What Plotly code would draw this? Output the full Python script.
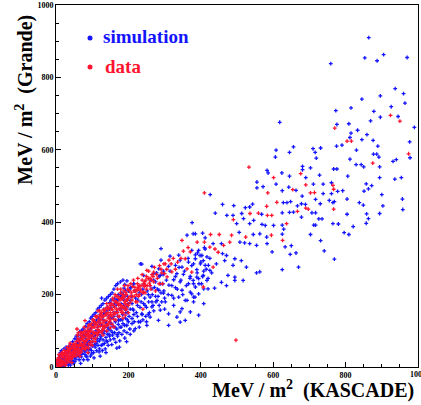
import plotly.graph_objects as go

# ---------------- data (MeV/m^2) ----------------
sim_points = [
    # sparse high-energy tail
    (864,910),(905,863),(853,854),(887,846),(970,855),(759,838),(937,769),(960,755),(896,749),(845,740),
    (964,729),(815,716),(926,719),(773,708),(878,706),(945,692),(896,690),(869,680),(809,672),(776,670),
    (618,676),(990,662),(833,654),(815,646),(859,642),(812,634),(845,628),(876,626),(977,622),(775,610),
    (889,610),(790,613),(731,605),(710,603),(656,608),
    (583,543),(586,536),(555,511),(572,498),(608,505),(555,495),(608,599),(606,580),
    (645,593),(716,593),(719,577),(812,574),(830,599),(877,588),(886,588),(892,580),(829,559),(843,559),
    (850,553),(931,568),(940,573),(978,578),(894,553),(681,554),(681,545),(703,550),(624,536),(645,527),
    (690,523),(728,530),(767,547),(776,547),(806,527),(894,523),(936,519),(954,523),(643,497),(663,488),
    (711,505),(738,505),(761,509),(625,487),(680,472),(738,479),(761,479),(778,485),(792,487),(851,486),
    (863,492),(872,501),(857,506),(628,454),(648,457),(638,454),(667,445),(678,451),(689,449),(717,463),
    (730,451),(755,460),(765,454),(769,457),(804,464),(838,454),(849,447),(900,476),(903,445),(957,464),
    (958,435),(625,426),(645,427),(656,428),(678,414),(707,426),(717,426),(726,409),(735,409),(765,396),
    (780,395),(804,422),(858,423),(894,424),(863,410),(857,397),(625,392),(712,392),(717,392),(629,381),
    (625,367),(633,332),(650,335),(647,311),(663,315),(703,366),(731,349),(796,371),(809,366),(821,388),
    (741,321),(769,298),(670,276),(625,269),
    # 350 - 620
    (460,449),(491,446),(523,440),(543,450),(535,442),(440,425),(472,419),(489,419),(513,424),(568,422),
    (518,410),(546,405),(569,394),(578,391),(601,391),(499,396),(535,396),(376,399),(379,368),(405,370),
    (412,357),(506,372),(545,366),(563,368),(582,359),(434,341),(457,341),(508,345),(521,343),(535,341),
    (554,336),(583,341),(597,318),(563,263),(554,260),(526,276),(512,294),(494,299),(489,281),(466,294),
    (443,285),(475,253),(494,248),(471,308),(460,313),(412,326),(394,322),(375,322),(398,308),(385,299),
    (407,294),(421,281),(425,267),(407,253),(389,248),(379,239),(402,230),(420,216),(438,218),(457,234),
    (471,225),(494,239),(517,239),(375,202),(384,193),(426,476),(362,364),(385,368),(290,327),(233,285),
    # 150 - 430
    (391,315),(403,308),(417,304),(315,306),(339,309),(343,295),(366,290),(380,285),(399,285),(412,281),
    (290,295),(311,278),(330,281),(348,276),(389,269),(408,265),(265,278),(284,271),(297,265),(334,258),
    (352,256),(371,250),(394,244),(417,239),(237,284),(270,258),(288,253),(325,241),(343,235),(366,230),
    (385,221),(408,216),(242,253),(275,235),(312,226),(330,219),(348,212),(371,207),(394,202),(214,230),
    (265,216),(284,212),(297,204),(320,198),(339,193),(357,184),(380,180),(408,175),(205,216),(260,193),
    (279,184),(302,180),(325,170),(348,161),(371,152),(394,143),(205,184),(242,175),(265,166),(288,157),
    (311,147),(334,138),(357,129),(311,115),(343,152),(196,166),(214,157),(237,147),(260,138),(283,129),
    (168,152),(210,134),(233,125),(251,115),(173,129),(196,115),(219,106),(343,124),(362,184),(380,193),
    (205,160),(210,175),(215,145),(220,190),(225,170),(230,205),(235,180),(240,215),(245,190),(250,165),
    (255,200),(260,225),(265,180),(270,240),(275,195),(280,215),(285,250),(290,205),(295,230),(300,190),
    (210,120),(225,140),(240,130),(255,145),(270,155),(285,170),(300,160),(230,110),(250,125),(215,100),
    (205,90),
    (202,140),(204,105),(208,195),(212,160),(216,125),(218,210),(222,150),(226,185),(228,125),(232,165),
    (236,200),(238,145),(242,230),(246,170),(248,140),(252,210),(256,180),(258,150),(262,240),(266,200),
    (268,170),(272,220),(276,180),(278,260),(282,195),(288,230),(292,180),(296,255),(298,210),(305,240),
    (310,200),(315,265),(320,225),(325,190),(330,250),(335,215),(340,275),(345,240),(350,200),(355,265),
    (360,225),(365,300),(370,245),(375,280),(380,230),(385,310),(390,260),(395,230),(400,290),(405,250),
    (410,330),(415,270),(420,245),(425,300),(430,260),
    # dense core
    (3,5),(5,12),(8,3),(10,8),(12,15),(6,20),(15,6),(18,12),(20,20),(14,25),(22,8),(25,15),(28,22),(24,30),
    (30,10),(32,18),(35,28),(30,35),(38,12),(40,22),(42,32),(36,40),(45,18),(46,28),(48,38),(44,46),(50,25),
    (26,40),(16,34),(8,26),(34,5),(40,5),(20,2),(48,10),(52,15),
    (10,30),(15,45),(22,50),(28,55),(35,55),(40,62),(46,70),(52,78),(56,85),(62,88),(66,98),(70,100),
    (75,105),(82,112),(86,120),(92,125),(96,135),(100,140),(12,40),(30,48),(55,60),(65,72),(75,88),
    (85,95),(95,105),(100,115),(18,28),(42,55),(58,78),
    (4,18),(9,14),(13,8),(17,22),(21,30),(25,24),(29,14),(33,40),(37,20),(41,45),(43,14),(47,52),(51,44),
    (53,28),(57,56),(59,40),(61,68),(63,30),(67,80),(69,52),(71,36),(73,92),(77,66),(79,44),(81,80),(83,30),
    (87,66),(89,100),(91,48),(93,70),(97,90),(99,36),
    (52,35),(55,45),(55,22),(58,30),(60,50),(62,40),(64,20),(65,60),(66,32),(68,45),(70,55),(70,28),(72,38),
    (74,65),(75,48),(76,20),(78,58),(80,35),(80,70),(82,45),(84,62),(85,28),(86,52),(88,75),(90,40),(90,60),
    (92,85),(94,50),(95,30),(96,68),(98,45),(98,80),(100,58),(100,95),(63,75),(72,82),(58,65),(88,20),
    (105,25),(80,90),(68,10),
    (102,70),(104,40),(105,85),(108,55),(110,100),(110,65),(112,45),(114,78),(115,110),(116,60),(118,90),
    (120,50),(120,72),(122,118),(124,85),(125,60),(126,100),(128,45),(130,75),(130,130),(132,92),(134,65),
    (135,110),(136,50),(138,82),(140,120),(140,98),(142,70),(144,60),(145,140),(146,105),(148,85),(150,75),
    (150,120),(126,190),(133,150),(118,135),(148,160),(143,90),(138,40),(122,30),
    (103,120),(107,62),(109,88),(111,125),(113,70),(117,100),(119,42),(121,130),(123,80),(127,115),
    (129,62),(131,145),(133,100),(137,125),(139,72),(141,155),(143,110),(147,90),(149,135),
    (105,145),(110,150),(115,160),(120,165),(125,170),(130,175),(135,185),(140,190),(145,195),(150,200),
    (155,205),(160,215),(165,225),(170,230),(178,235),(185,240),(190,228),(196,238),(108,120),(118,125),
    (128,140),(138,148),(148,178),(158,170),(168,185),(178,195),(188,185),(198,195),(112,130),(122,145),
    (132,160),(142,165),(152,185),(172,200),(182,205),(192,210),(206,220),(215,230),
    (152,100),(154,62),(155,135),(156,88),(158,112),(160,78),(160,150),(162,95),(164,125),(165,68),
    (166,170),(168,105),(170,85),(170,140),(172,118),(174,95),(175,160),(176,72),(178,130),(180,110),
    (180,175),(182,90),(184,145),(185,120),(186,200),(188,100),(190,160),(190,80),(192,135),(194,115),
    (195,185),(196,95),(198,150),(200,125),(200,210),(175,55),(168,52),(188,218),(162,188),(195,70),
    (151,165),(153,120),(157,95),(159,140),(161,175),(163,110),(167,150),(169,90),(171,185),(173,130),
    (177,110),(179,160),(181,195),(183,130),(187,170),(189,115),(191,195),(193,150),(197,130),(199,175),
]

data_points = [
    (924,695),(950,679),(770,660),(804,624),(816,624),(533,552),(601,523),(585,481),(767,436),
    (875,563),(974,589),(676,534),(654,490),(690,503),(765,502),(767,491),(703,481),(714,482),
    (690,439),(697,436),(637,396),(626,350),(667,430),
    (536,424),(559,425),(582,444),(610,455),(584,419),(596,419),(490,407),(427,366),(451,366),
    (390,345),(410,345),(485,364),(524,359),(595,364),(463,336),(480,345),(448,317),(439,326),
    (425,331),(434,276),(375,262),(407,221),(410,481),(348,350),(497,74),
    (371,318),(357,299),(302,285),(362,271),(251,267),(320,263),(307,249),(256,244),(294,230),
    (228,221),(247,226),(224,212),(242,207),(187,193),(224,180),(178,170),(191,143),
    # dense core
    (2,10),(4,3),(6,16),(8,8),(10,22),(12,4),(12,12),(14,30),(16,18),(18,6),(20,26),(22,14),(24,36),
    (26,22),(28,10),(28,42),(30,30),(32,20),(34,46),(34,36),(36,14),(38,28),(40,50),(40,40),(42,22),
    (44,34),(46,58),(48,44),(48,30),(50,52),(8,34),(18,40),(26,4),(44,12),(38,60),
    (10,2),(15,10),(20,12),(25,10),(30,18),(35,22),(40,28),(45,26),(50,32),(55,30),(60,44),(65,38),
    (70,42),(75,52),(80,48),(85,55),(90,52),(95,62),(100,70),(20,35),(30,45),(36,50),(50,40),(54,58),
    (64,60),(70,78),(76,72),(86,90),(94,88),
    (3,20),(7,26),(11,18),(15,38),(19,30),(23,46),(27,34),(31,54),(33,26),(37,44),(39,66),(43,52),
    (47,40),(49,64),(53,48),(57,62),(59,88),(61,50),(63,74),(67,62),(69,96),(71,56),(73,84),(77,98),
    (79,64),(81,90),(83,72),(87,100),(89,84),(91,116),(93,100),(97,84),(99,108),
    (52,62),(54,40),(56,70),(58,50),(60,36),(60,80),(62,58),(64,70),(66,46),(68,88),(70,64),(72,76),
    (72,50),(74,92),(76,60),(78,82),(80,70),(82,100),(82,54),(84,88),(86,76),(88,108),(90,64),(90,94),
    (92,80),(94,114),(96,100),(96,70),(98,120),(100,86),(62,95),(78,110),(88,40),(66,30),(80,128),
    (100,60),(58,105),
    (102,110),(104,130),(106,92),(108,118),(110,80),(112,138),(114,104),(116,124),(118,96),(120,140),
    (122,112),(124,130),(126,150),(128,100),(130,122),(132,140),(134,108),(136,160),(138,128),(140,146),
    (142,115),(144,135),(146,165),(148,125),(150,150),(116,155),(130,88),(140,175),(108,70),(150,108),
    (105,78),(110,95),(115,88),(120,100),(125,95),(130,105),(135,115),(140,100),(145,120),(150,130),
    (155,118),(160,145),(165,130),(170,150),(175,140),(180,155),(185,150),(190,165),(195,160),(200,170),
    (106,125),(114,140),(124,145),(134,155),(144,160),(154,175),(164,180),(174,175),(184,200),(194,185),
    (101,130),(103,96),(107,110),(109,140),(111,118),(113,92),(117,112),(119,130),(121,155),(123,120),
    (127,138),(129,112),(131,158),(133,128),(137,145),(139,115),(141,165),(143,150),(147,140),(149,175),
    (152,170),(154,140),(156,158),(158,185),(160,132),(162,165),(164,148),(166,195),(168,160),(170,175),
    (172,140),(174,190),(176,160),(178,205),(180,170),(182,150),(184,188),(186,165),(188,210),(190,180),
    (192,158),(194,200),(196,172),(198,215),(200,190),(204,178),(208,205),(212,222),(216,195),(220,210),
    (170,215),(160,110),(185,135),(200,150),
    (151,145),(153,160),(157,190),(159,170),(161,150),(163,200),(167,180),(169,158),(171,195),(173,170),
    (177,185),(179,215),(181,190),(183,165),(187,195),(189,225),(191,175),(193,205),(197,185),(199,225),
    (203,210),(207,230),(211,195),(214,240),(218,220),(222,200),(226,245),(230,225),(234,210),(238,255),
    (242,230),(248,240),(252,225),(256,265),(260,245),(268,250),(272,275),(278,255),(286,280),(292,260),
    (298,285),(306,270),(312,295),(324,300),(336,290),(352,320),(365,330),
    (205,195),(210,185),(215,210),(220,180),(225,215),(230,200),(235,225),(240,205),(245,235),(250,215),
    (255,245),(260,225),(265,255),(270,235),
    (225,230),(232,215),(238,240),(244,222),(250,250),(258,232),(264,240),(270,262),(280,245),(290,270),
    (300,258),(228,195),(246,205),(262,215),(285,230),(240,160),(275,210),(318,285),(330,270),(345,300),
]

tick_values = [0, 200, 400, 600, 800, 1000]
tick_labels = ["0", "200", "400", "600", "800", "1000"]

SIM_COLOR = "#1414ff"
DATA_COLOR = "#ff1430"
FONT = "Liberation Serif"

sim_x = [p[0] for p in sim_points]
sim_y = [p[1] for p in sim_points]
data_x = [p[0] for p in data_points]
data_y = [p[1] for p in data_points]

fig = go.Figure()
fig.add_trace(go.Scatter(x=sim_x, y=sim_y, mode="markers", name="simulation",
                         marker=dict(symbol="cross", size=3.2, color=SIM_COLOR, line=dict(width=0))))
fig.add_trace(go.Scatter(x=data_x, y=data_y, mode="markers", name="data",
                         marker=dict(symbol="cross", size=3.2, color=DATA_COLOR, line=dict(width=0))))

tick_font = dict(family=FONT, size=8, color="black", weight="bold")
axis_common = dict(
    range=[0, 1000], showgrid=False, zeroline=False, automargin=False,
    showline=True, linecolor="black", linewidth=1, mirror=True,
    ticks="inside", ticklen=5, tickcolor="black",
    tickfont=tick_font,
    minor=dict(dtick=50, ticks="inside", ticklen=3, tickcolor="black"),
)
# the last x label sits at the window edge (clipped in the original), drawn as annotation below
fig.update_xaxes(**axis_common, tickvals=tick_values[:-1], ticktext=tick_labels[:-1])
fig.update_yaxes(**axis_common, tickvals=tick_values, ticktext=tick_labels)

fig.update_layout(
    width=421, height=405,
    margin=dict(l=56, r=3, t=5, b=38, autoexpand=False),
    paper_bgcolor="white", plot_bgcolor="white",
    showlegend=False,
    font=dict(family=FONT),
    shapes=[
        dict(type="circle", xref="paper", yref="paper", xsizemode="pixel", ysizemode="pixel",
             xanchor=0.094, yanchor=0.909, x0=-2.5, x1=2.5, y0=-2.5, y1=2.5,
             fillcolor=SIM_COLOR, line=dict(width=0)),
        dict(type="circle", xref="paper", yref="paper", xsizemode="pixel", ysizemode="pixel",
             xanchor=0.094, yanchor=0.829, x0=-2.5, x1=2.5, y0=-2.5, y1=2.5,
             fillcolor=DATA_COLOR, line=dict(width=0)),
    ],
    annotations=[
        dict(text=tick_labels[-1], xref="x", yref="paper", x=tick_values[-1], y=0,
             xanchor="center", yanchor="top", yshift=-1, showarrow=False, font=tick_font),
        dict(text="simulation", xref="paper", yref="paper", x=0.124, y=0.912,
             xanchor="left", yanchor="middle", showarrow=False,
             font=dict(family=FONT, size=19, color=SIM_COLOR, weight="bold")),
        dict(text="data", xref="paper", yref="paper", x=0.130, y=0.831,
             xanchor="left", yanchor="middle", showarrow=False,
             font=dict(family=FONT, size=19, color=DATA_COLOR, weight="bold")),
        dict(text="MeV / m<sup>2</sup>  (KASCADE)", xref="paper", yref="paper", x=0.994, y=-0.062,
             xanchor="right", yanchor="middle", showarrow=False,
             font=dict(family=FONT, size=20, color="black", weight="bold")),
        dict(text="MeV / m<sup>2</sup>  (Grande)", xref="paper", yref="paper", x=-0.086, y=0.738,
             xanchor="center", yanchor="middle", showarrow=False, textangle=-90,
             font=dict(family=FONT, size=20, color="black", weight="bold")),
    ],
)

fig.write_html("out.html", config={"displayModeBar": False},
               post_script="document.body.style.margin='0';document.body.style.overflow='hidden';")
